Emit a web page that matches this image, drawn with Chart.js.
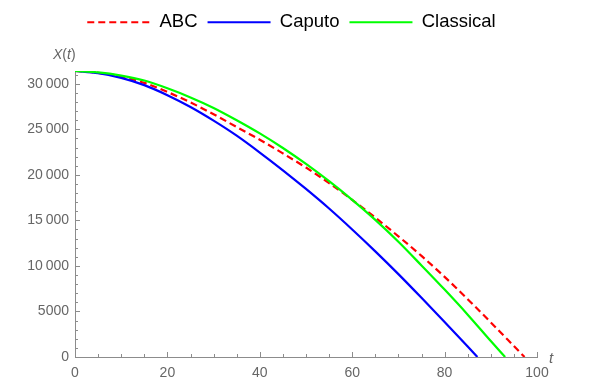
<!DOCTYPE html>
<html>
<head>
<meta charset="utf-8">
<script src="https://cdn.jsdelivr.net/npm/chart.js@4.4.1/dist/chart.umd.min.js"></script>
<style>
  html, body { margin: 0; padding: 0; background: #fff; }
</style>
</head>
<body>
<canvas id="xt-chart" width="606" height="389"></canvas>
<script>
Chart.defaults.font.family = "'Liberation Sans', Arial, sans-serif";

// X(t), one t list per curve
var tABC = [0, 5, 10, 15, 20, 25, 30, 35, 40, 45, 50, 55, 60, 65, 70, 75, 80, 85, 90, 95, 97.3];
var xABC = [31400, 31200, 30800, 30100, 29100, 27950, 26650, 25250, 23850, 22350, 20800,
            19100, 17250, 15300, 13250, 11100, 8800, 6350, 3800, 1200, 0];

var tCaputo = [0, 5, 10, 15, 20, 25, 30, 35, 40, 45, 50, 55, 60, 65, 70, 75, 80, 85, 87.1];
var xCaputo = [31400, 31150, 30650, 29850, 28750, 27450, 25950, 24300, 22450, 20500, 18450,
               16300, 14000, 11600, 9100, 6500, 3850, 1150, 0];

var tClassical = [0, 5, 10, 15, 20, 25, 30, 35, 40, 45, 50, 55, 60, 65, 70, 75, 80, 85, 90, 93.1];
var xClassical = [31400, 31250, 30900, 30350, 29500, 28500, 27350, 26000, 24550, 22950, 21200,
                  19300, 17250, 15050, 12650, 10050, 7400, 4650, 1750, 0];

var xTicks = [0, 20, 40, 60, 80, 100];
var yTicks = [0, 5000, 10000, 15000, 20000, 25000, 30000];

var AXIS = "#8c8c8c";
var LABEL = "#666666";

function pts(ts, vs) {
    var out = [];
    for (var i = 0; i < ts.length; i++) {
        out.push({ x: ts[i], y: vs[i] });
    }
    return out;
}

function fmt(v) {
    if (v < 10000) return String(v);
    return String(v).replace(/\B(?=(\d{3})+(?!\d))/g, "\u2009");
}

// inward ticks + axis names, Mathematica style
var axisDeco = {
    id: "axisDeco",
    beforeInit: function (chart) {
        var fit = chart.legend.fit;
        chart.legend.fit = function () {
            fit.call(this);
            this.height = 71;
        };
    },
    afterLayout: function (chart) {
        var lg = chart.legend;
        lg.left += 23;
        lg.right += 23;
        lg.top += 3;
        lg.bottom += 3;
    },
    afterDraw: function (chart) {
        var ctx = chart.ctx;
        var xs = chart.scales.x, ys = chart.scales.y;
        var area = chart.chartArea;
        ctx.save();
        ctx.strokeStyle = AXIS;
        ctx.lineWidth = 1;
        ctx.beginPath();
        for (var v = 0; v <= 31000; v += 1000) {
            var py = Math.round(ys.getPixelForValue(v)) + 0.5;
            var len = (v % 5000 === 0) ? 5 : 3;
            ctx.moveTo(area.left, py);
            ctx.lineTo(area.left + len, py);
        }
        for (var t = 0; t <= 100; t += 5) {
            var px = Math.round(xs.getPixelForValue(t)) + 0.5;
            var l = (t % 20 === 0) ? 5 : 3;
            ctx.moveTo(px, area.bottom);
            ctx.lineTo(px, area.bottom - l);
        }
        ctx.stroke();

        ctx.fillStyle = LABEL;
        ctx.textBaseline = "alphabetic";
        var it = "italic 14px 'Liberation Sans', Arial, sans-serif";
        var up = "14px 'Liberation Sans', Arial, sans-serif";
        var parts = [["X", it], ["(", up], ["t", it], [")", up]];
        var x0 = area.left - 22, yb = area.top - 12;
        for (var i = 0; i < parts.length; i++) {
            ctx.font = parts[i][1];
            ctx.fillText(parts[i][0], x0, yb);
            x0 += ctx.measureText(parts[i][0]).width;
        }
        ctx.font = "italic 15px 'Liberation Sans', Arial, sans-serif";
        ctx.fillText("t", area.right + 12, area.bottom + 6);
        ctx.restore();
    }
};

var ctx0 = document.getElementById("xt-chart");
var mychart = new Chart(ctx0, {
    type: "line",
    data: {
        datasets: [{
            label: "ABC",
            data: pts(tABC, xABC),
            borderColor: "#ff0000",
            borderWidth: 2.2,
            borderDash: [7, 4],
            order: 2
        }, {
            label: "Caputo",
            data: pts(tCaputo, xCaputo),
            borderColor: "#0000ff",
            borderWidth: 2.2,
            order: 1
        }, {
            label: "Classical",
            data: pts(tClassical, xClassical),
            borderColor: "#00ff00",
            borderWidth: 2.2,
            order: 0
        }]
    },
    options: {
        responsive: false,
        animation: false,
        elements: {
            point: { radius: 0 },
            line: { cubicInterpolationMode: "monotone", fill: false }
        },
        layout: { padding: { left: 0, right: 69, top: 0, bottom: 0 } },
        plugins: {
            legend: {
                display: true,
                position: "top",
                labels: {
                    usePointStyle: true,
                    pointStyle: "line",
                    pointStyleWidth: 63,
                    padding: 10,
                    color: "#000",
                    font: { size: 18.5 },
                    sort: function (a, b) { return a.datasetIndex - b.datasetIndex; },
                    generateLabels: function (chart) {
                        var items = Chart.defaults.plugins.legend.labels.generateLabels(chart);
                        items.forEach(function (item) {
                            var ds = chart.data.datasets[item.datasetIndex];
                            item.lineDash = ds.borderDash || [];
                            item.lineWidth = 2.2;
                            item.strokeStyle = ds.borderColor;
                        });
                        return items;
                    }
                }
            },
            tooltip: { enabled: false }
        },
        scales: {
            x: {
                type: "linear",
                min: 0,
                max: 100,
                grid: { display: false, drawTicks: false },
                border: { display: true, color: AXIS, width: 1 },
                afterBuildTicks: function (scale) {
                    scale.ticks = xTicks.map(function (v) { return { value: v }; });
                },
                afterFit: function (scale) { scale.height = 32; },
                ticks: {
                    color: LABEL,
                    font: { size: 14 },
                    padding: 8,
                    maxRotation: 0,
                    autoSkip: false
                }
            },
            y: {
                type: "linear",
                min: 0,
                max: 31400,
                grid: { display: false, drawTicks: false },
                border: { display: true, color: AXIS, width: 1 },
                afterBuildTicks: function (scale) {
                    scale.ticks = yTicks.map(function (v) { return { value: v }; });
                },
                afterFit: function (scale) { scale.width = 75; },
                ticks: {
                    color: LABEL,
                    font: { size: 14 },
                    padding: 6,
                    autoSkip: false,
                    callback: function (v) { return fmt(v); }
                }
            }
        }
    },
    plugins: [axisDeco]
});
</script>
</body>
</html>
